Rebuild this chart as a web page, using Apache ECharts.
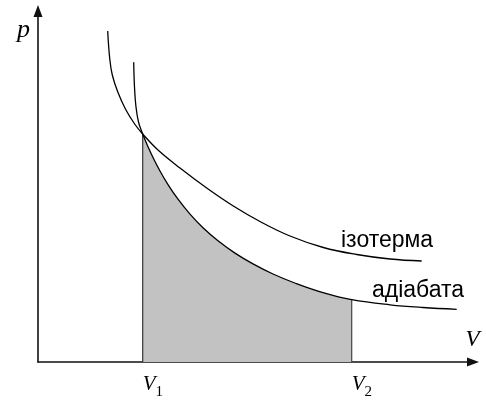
<!DOCTYPE html>
<html><head><meta charset="utf-8">
<script src="https://cdn.jsdelivr.net/npm/echarts@6/dist/echarts.min.js"></script>
<style>html,body{margin:0;padding:0;background:#fff}#c{width:486px;height:401px}</style>
</head><body><div id="c"></div>
<script>
// Volume (V) and pressure (p) readings, arbitrary units
const isothermV = [69.7, 71.7, 74.3, 79.7, 87.7, 97, 104.7, 120, 142, 168.7, 195.3, 222, 252, 285.3, 318.7, 352, 383.7];
const isothermP = [331, 303.7, 287, 270.3, 252.5, 237.5, 228, 212, 194, 174, 156, 140.5, 126, 114.5, 107.5, 103, 101];
const adiabatV = [95.7, 96.5, 98, 100.5, 104.7, 110, 116, 122, 130, 140, 152, 165, 180, 197, 215, 235, 258, 285, 313.7, 352, 385, 418.7];
const adiabatP = [299.7, 275, 255, 240, 228, 215.3, 202.5, 191, 177.4, 162.8, 147.9, 134.3, 121.2, 108.9, 98.1, 88, 78.5, 69.3, 62.3, 57.2, 54.5, 52.7];
const V1 = 104.7, V2 = 313.7;
const tickValues = [V1, V2];
const tickSubs = ['1', '2'];
const curveNames = ['ізотерма', 'адіабата'];

const iso = isothermV.map((v, i) => [v, isothermP[i]]);
const adi = adiabatV.map((v, i) => [v, adiabatP[i]]);
const shade = adi.filter(d => d[0] >= V1 && d[0] <= V2);
const pAt = v => adiabatP[adiabatV.indexOf(v)];

const chart = echarts.init(document.getElementById('c'), null, {renderer: 'canvas'});
const axisCommon = {
  type: 'value', min: 0,
  splitLine: {show: false}, axisTick: {show: false},
  axisLine: {show: true, onZero: false, symbol: ['none', 'triangle'], symbolSize: [9, 12], symbolOffset: [0, 4],
    lineStyle: {color: '#111', width: 1.6}}
};
const SMOOTH = 0.4;
chart.setOption({
  animation: false,
  backgroundColor: '#fff',
  grid: {left: 38, right: 17, top: 15, bottom: 39},
  xAxis: Object.assign({}, axisCommon, {
    max: 431,
    axisLabel: {
      customValues: tickValues, margin: 12, align: 'left',
      formatter: v => '{v|V}{s|' + tickSubs[tickValues.indexOf(v)] + '}',
      rich: {
        v: {fontFamily: 'Liberation Serif', fontStyle: 'italic', fontSize: 21, lineHeight: 22, color: '#000', verticalAlign: 'top'},
        s: {fontFamily: 'Liberation Serif', fontSize: 15, lineHeight: 15, color: '#000', verticalAlign: 'top', padding: [11, 0, 0, 0]}
      }
    }
  }),
  yAxis: Object.assign({}, axisCommon, {max: 347, axisLabel: {show: false}}),
  series: [
    {type: 'line', data: shade, smooth: SMOOTH, symbol: 'none', lineStyle: {width: 0},
      areaStyle: {color: '#c2c2c2', opacity: 1, origin: 'start'}, z: 1},
    {type: 'line', data: [[V1, 0], [V1, pAt(V1)]], symbol: 'none', lineStyle: {color: '#333', width: 1.2}, z: 2},
    {type: 'line', data: [[V2, 0], [V2, pAt(V2)]], symbol: 'none', lineStyle: {color: '#444', width: 1.2}, z: 2},
    {type: 'line', name: curveNames[0], data: iso, smooth: SMOOTH, symbol: 'none', lineStyle: {color: '#000', width: 1.3}, z: 3},
    {type: 'line', name: curveNames[1], data: adi, smooth: SMOOTH, symbol: 'none', lineStyle: {color: '#000', width: 1.3}, z: 3}
  ],
  graphic: [
    {type: 'text', x: 23.5, y: 30, style: {text: 'p', fontFamily: 'Liberation Serif', fontStyle: 'italic', fontSize: 26, fill: '#000', align: 'center', verticalAlign: 'middle'}},
    {type: 'text', x: 472.5, y: 340, style: {text: 'V', fontFamily: 'Liberation Serif', fontStyle: 'italic', fontSize: 23, fill: '#000', align: 'center', verticalAlign: 'middle'}},
    {type: 'text', x: 341, y: 240.7, style: {text: curveNames[0], fontFamily: 'Liberation Sans', fontSize: 23, fill: '#000', align: 'left', verticalAlign: 'middle'}},
    {type: 'text', x: 372, y: 290.7, style: {text: curveNames[1], fontFamily: 'Liberation Sans', fontSize: 23, fill: '#000', align: 'left', verticalAlign: 'middle'}}
  ]
});
</script>
</body></html>
